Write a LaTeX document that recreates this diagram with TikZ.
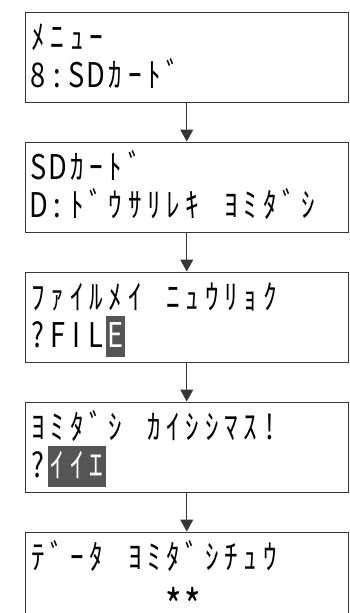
\documentclass[tikz,border=0pt]{standalone}
\usepackage{fontspec}
\usepackage{xcolor}
\usepackage{graphicx}
\usetikzlibrary{positioning,arrows.meta}
\newfontfamily\lcdfont[FakeStretch=0.8]{Noto Sans CJK JP}
\definecolor{lcdGray}{RGB}{85,85,85}
\definecolor{lineGray}{RGB}{55,55,55}
\newlength\lcdpitch
\setlength\lcdpitch{19.3pt}
% one fixed cell per character, like an LCD
\def\lcd#1{\rule[-7.5pt]{0pt}{38pt}\lcdloop#1\relax}
\def\lcdloop#1{\ifx#1\relax\else\makebox[\lcdpitch][c]{#1}\expandafter\lcdloop\fi}
% cursor cells (white on grey)
\def\lcdhl#1{\lcdhlloop#1\relax}
\def\lcdhlloop#1{\ifx#1\relax\else\smash{\rlap{\color{lcdGray}\rule[-9pt]{\lcdpitch}{41pt}}}\makebox[\lcdpitch][c]{\color{white}#1}\expandafter\lcdhlloop\fi}
\def\lcdstar{\raisebox{-14.5pt}[18pt][0pt]{\scalebox{1.3}{*}}}

\begin{document}
\begin{tikzpicture}[
    x=1pt, y=1pt,
    node distance=39pt,
    lcdbox/.style={rectangle, draw=lineGray, line width=1pt, minimum height=90pt,
        text width=316pt, inner xsep=3.5pt, inner ysep=0pt, align=left,
        font=\lcdfont\fontsize{34pt}{38pt}\selectfont},
    arrow/.style={-{Triangle[width=13pt,length=12pt]}, draw=lineGray, line width=1pt}
]
    \path[use as bounding box, clip] (0,0) rectangle (350,-613);

    \node[lcdbox] (menu) at (186.75,-57) {\lcd{ﾒﾆｭｰ}\\\lcd{8:SDｶｰﾄﾞ}};

    % SD card menu
    \node[lcdbox, below=of menu] (sdcard) {\lcd{SDｶｰﾄﾞ}\\\lcd{D:ﾄﾞｳｻﾘﾚｷ~ﾖﾐﾀﾞｼ}};

    % file name entry
    \node[lcdbox, below=of sdcard] (fname) {\lcd{ﾌｧｲﾙﾒｲ~ﾆｭｳﾘｮｸ}\\\lcd{?FIL}\lcdhl{E}};

    % confirm
    \node[lcdbox, below=of fname] (confirm) {\lcd{ﾖﾐﾀﾞｼ~ｶｲｼｼﾏｽ!}\\\lcd{?}\lcdhl{ｲｲｴ}};

    % reading
    \node[lcdbox, below=of confirm] (reading) {\lcd{ﾃﾞｰﾀ~ﾖﾐﾀﾞｼﾁｭｳ}\\\lcd{~~~~~~~\lcdstar\lcdstar}};

    \draw[arrow] (menu) -- (sdcard);
    \draw[arrow] (sdcard) -- (fname);
    \draw[arrow] (fname) -- (confirm);
    \draw[arrow] (confirm) -- (reading);
\end{tikzpicture}
\end{document}
